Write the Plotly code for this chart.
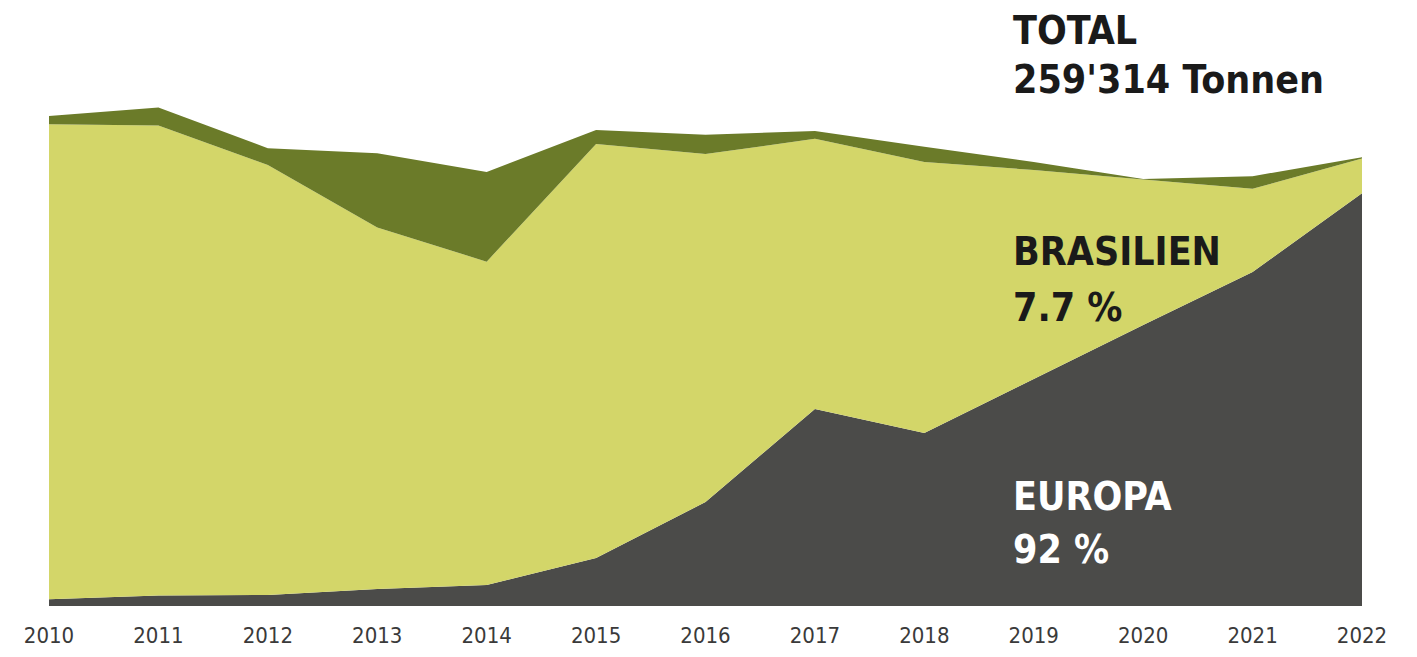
import plotly.graph_objects as go

years = [2010, 2011, 2012, 2013, 2014, 2015, 2016, 2017, 2018, 2019, 2020, 2021, 2022]
europa = [3900, 6000, 6400, 9800, 12100, 27700, 60100, 113900, 100000, 131200, 162400, 193000, 238600]
brasilien = [274500, 271700, 248500, 209000, 186900, 239300, 201100, 156100, 156600, 120800, 84100, 48100, 19970]
andere = [4800, 10400, 9700, 42800, 51800, 8100, 11200, 4500, 8800, 4600, 300, 7300, 744]

total_label = "259'314 Tonnen"

C_EU = "#4b4b49"
C_BR = "#d3d669"
C_OT = "#6b7b29"

fig = go.Figure()
for name, vals, col in [("Europa", europa, C_EU), ("Brasilien", brasilien, C_BR), ("Andere", andere, C_OT)]:
    fig.add_trace(go.Scatter(x=years, y=vals, name=name, mode="lines", stackgroup="one",
                             line=dict(width=0, color=col), fillcolor=col, hoverinfo="skip"))

OFF = 8  # page body margin
W, H = 1401, 641
ml, mr, mt, mb = 41, 47, 12, 43
plot_h = H - mt - mb
plot_w = W - ml - mr
top_total = europa[-1] + brasilien[-1] + andere[-1]
ymax = top_total * plot_h / (606 - 157.3)

def py(ypx):
    return (H - mb - (ypx - OFF)) / plot_h

def px(xpx):
    return (xpx - OFF - ml) / plot_w

bold_font = "Liberation Sans Narrow, DejaVu Sans Condensed, Arial Narrow, sans-serif"
anns = [
    ("TOTAL", 30, "#1a1a1a"),
    (total_label, 79, "#1a1a1a"),
    ("BRASILIEN", 251, "#1a1a1a"),
    ("7.7 %", 307, "#1a1a1a"),
    ("EUROPA", 496, "#ffffff"),
    ("92 %", 549, "#ffffff"),
]
for txt, ypx, col in anns:
    fig.add_annotation(text="<b>%s</b>" % txt, xref="paper", yref="paper", x=px(1011), y=py(ypx),
                       xanchor="left", yanchor="middle", showarrow=False,
                       font=dict(family=bold_font, size=39, color=col))

fig.update_layout(
    width=W, height=H, margin=dict(l=ml, r=mr, t=mt, b=mb, autoexpand=False),
    paper_bgcolor="white", plot_bgcolor="white", showlegend=False,
    xaxis=dict(range=[2010, 2022], tickvals=years, ticktext=[str(y) for y in years],
               showgrid=False, zeroline=False, showline=False, ticks="",
               automargin=False, ticklabelstandoff=14,
               tickfont=dict(family="Liberation Sans Narrow, DejaVu Sans Condensed, sans-serif", size=22, color="#3a3a3a")),
    yaxis=dict(range=[0, ymax], visible=False, showgrid=False, zeroline=False, automargin=False),
)
fig.write_html("out.html")
